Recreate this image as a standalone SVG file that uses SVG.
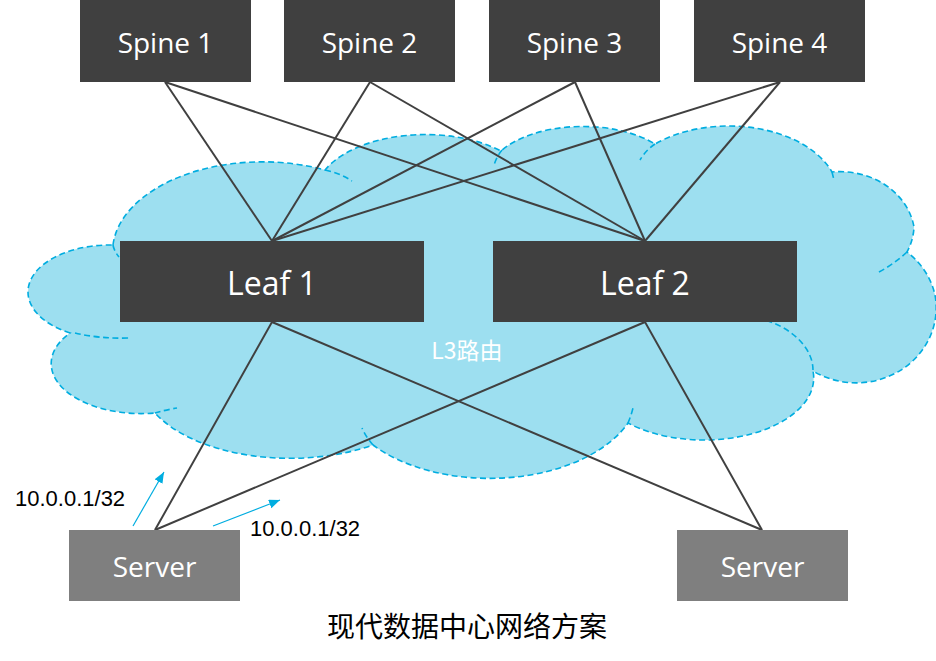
<svg xmlns="http://www.w3.org/2000/svg" width="936" height="661" viewBox="0 0 936 661">
<defs>
<style>
.cloud{fill:#9DDFF0;stroke:#00ADE0;stroke-width:1.6;stroke-dasharray:6 3.5}
.notch{fill:none;stroke:#00ADE0;stroke-width:1.6;stroke-dasharray:6 3.5}
.link{stroke:#404040;stroke-width:2;fill:none}
.dark{fill:#404040}
.srv{fill:#7F7F7F}
.nt{fill:#FFFFFF;font-family:"Open Sans","Noto Sans",sans-serif;text-anchor:middle}
.ip{fill:#000000;font-family:"Liberation Sans",Arial,sans-serif;font-size:22px}
.blue{stroke:#00ADE0;stroke-width:1.2;fill:none}
</style>
<marker id="ah" markerUnits="userSpaceOnUse" markerWidth="12" markerHeight="10" refX="11" refY="4.5" orient="auto">
<path d="M0,0 L11,4.5 L0,9 z" fill="#00ADE0"/>
</marker>
</defs>
<rect width="936" height="661" fill="#FFFFFF"/>
<g id="cloud">
<path class="cloud" d="M113,245 A150 90 0 0 1 325,170 A110 60 0 0 1 501,151 A95 50 0 0 1 655,144 A110 70 0 0 1 832,172 A75 65 0 0 1 914,227 A75 65 0 0 1 907,252 A80 75 0 0 1 935,295 A80 75 0 0 1 813,371 A110 62 0 0 1 628,423 A150 90 0 0 1 373,445 A150 80 0 0 1 155,413 A90 50 0 0 1 70,333 A82 47 0 0 1 113,245 Z"/>
<path class="notch" d="M113,245 Q114,251 119,257 M75,333 Q100,339 130,338 M155,413 Q165,410 177,408 M373,445 Q366,437 362,428 M628,423 Q631,416 633,408 M813,370 C813,350 795,330 768,321 M907,252 Q893,265 877,273 M832,172 Q833,176 834,180 M655,144 Q646,150 640,160 M502,150 Q497,156 494,165 M325,170 Q340,173 352,181"/>
<text x="467" y="359" fill="#FFFFFF" font-family="'Noto Sans CJK SC',sans-serif" font-size="23" text-anchor="middle">L3路由</text>
</g>
<g id="connectors">
<line class="link" x1="165" y1="82" x2="272" y2="241"/>
<line class="link" x1="165" y1="82" x2="645" y2="241"/>
<line class="link" x1="370" y1="82" x2="272" y2="241"/>
<line class="link" x1="370" y1="82" x2="645" y2="241"/>
<line class="link" x1="575" y1="82" x2="272" y2="241"/>
<line class="link" x1="575" y1="82" x2="645" y2="241"/>
<line class="link" x1="780" y1="82" x2="272" y2="241"/>
<line class="link" x1="780" y1="82" x2="645" y2="241"/>
<line class="link" x1="272" y1="322" x2="155" y2="530"/>
<line class="link" x1="272" y1="322" x2="762" y2="530"/>
<line class="link" x1="645" y1="322" x2="155" y2="530"/>
<line class="link" x1="645" y1="322" x2="762" y2="530"/>
<line class="blue" x1="133" y1="526" x2="164" y2="472" marker-end="url(#ah)"/>
<line class="blue" x1="213" y1="526" x2="280" y2="500" marker-end="url(#ah)"/>
</g>
<g id="spine1"><rect class="dark" x="80" y="0" width="171" height="82"/><text class="nt" x="165.5" y="53" font-size="28">Spine 1</text></g>
<g id="spine2"><rect class="dark" x="284" y="0" width="171" height="82"/><text class="nt" x="369.5" y="53" font-size="28">Spine 2</text></g>
<g id="spine3"><rect class="dark" x="489" y="0" width="171" height="82"/><text class="nt" x="574.5" y="53" font-size="28">Spine 3</text></g>
<g id="spine4"><rect class="dark" x="694" y="0" width="171" height="82"/><text class="nt" x="779.5" y="53" font-size="28">Spine 4</text></g>
<g id="leaf1"><rect class="dark" x="120" y="241" width="304" height="81"/><text class="nt" x="272" y="295" font-size="32">Leaf 1</text></g>
<g id="leaf2"><rect class="dark" x="493" y="241" width="304" height="81"/><text class="nt" x="645" y="295" font-size="32">Leaf 2</text></g>
<g id="server1"><rect class="srv" x="69" y="530" width="171" height="71"/><text class="nt" x="154.5" y="577" font-size="28">Server</text></g>
<g id="server2"><rect class="srv" x="677" y="530" width="171" height="71"/><text class="nt" x="762.5" y="577" font-size="28">Server</text></g>
<g id="labels">
<text class="ip" x="15" y="506">10.0.0.1/32</text>
<text class="ip" x="250" y="536">10.0.0.1/32</text>
<text x="467" y="637" fill="#000000" font-family="'Noto Sans CJK SC',sans-serif" font-size="28" text-anchor="middle">现代数据中心网络方案</text>
</g>
</svg>
